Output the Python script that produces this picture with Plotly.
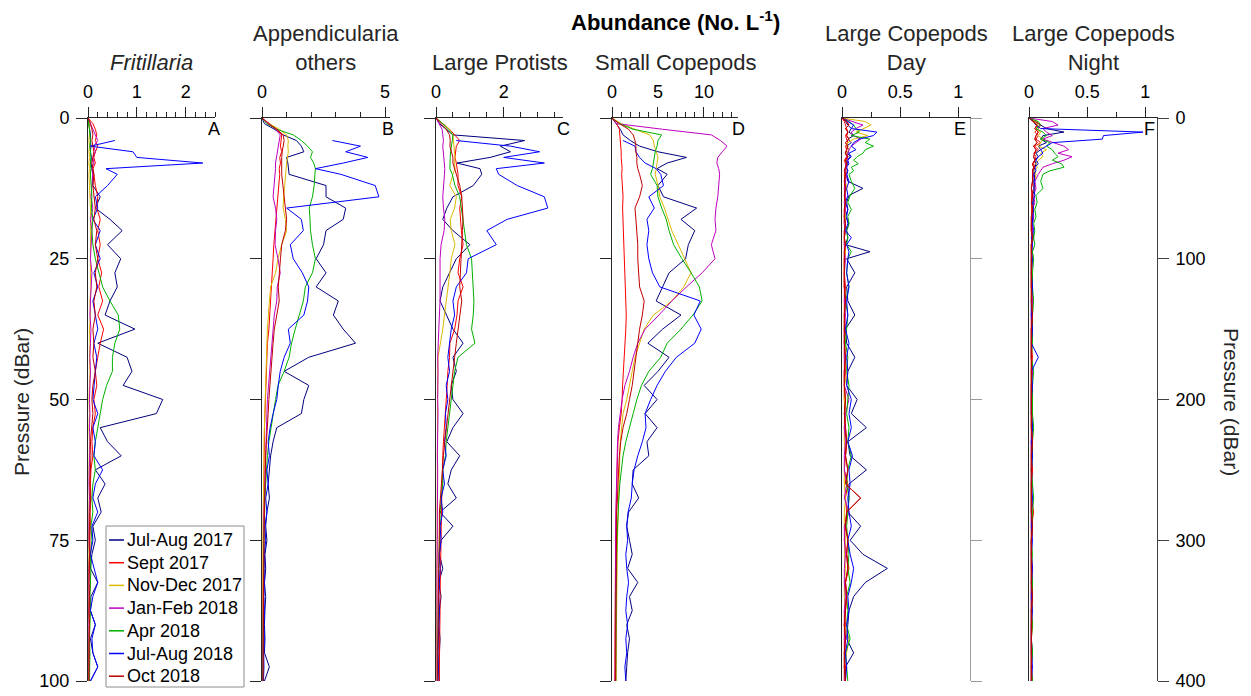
import plotly.graph_objects as go

W, H = 1251, 696

SERIES = ["Jul-Aug 2017", "Sept 2017", "Nov-Dec 2017", "Jan-Feb 2018",
          "Apr 2018", "Jul-Aug 2018", "Oct 2018"]
COLORS = ["#000080", "#FF0000", "#DDB800", "#BF00BF", "#00B000", "#0000FF", "#C00000"]

# Pressure grid (dBar) for panels A-D
DEPTH_AD = [0, 1, 2, 3, 4, 5, 6, 7, 8, 9, 10,
            12, 14, 16, 18, 20,
            22.5, 25, 27.5, 30, 32.5, 35, 37.5, 40, 42.5, 45,
            47.5, 50, 52.5, 55, 57.5, 60, 62.5, 65, 67.5, 70,
            72.5, 75, 77.5, 80, 82.5, 85, 87.5, 90, 92.5, 95,
            97.5, 100]

# Pressure grid (dBar) for panels E-F
DEPTH_EF = [0, 2.5, 5, 7.5, 10, 12.5, 15, 17.5, 20, 22.5, 25, 27.5, 30, 32.5, 35, 37.5, 40,
            45, 50, 55, 60, 65, 70, 75, 80, 85, 90, 95, 100,
            110, 120, 130, 140, 150, 160, 170, 180, 190, 200,
            210, 220, 230, 240, 250, 260, 270, 280, 290, 300,
            310, 320, 330, 340, 350, 360, 370, 380, 390, 400]

N = None

# ---------------- Panel A: Fritillaria ----------------
A_jul17 = [0, 0.02, 0.03, 0.05, 0.05, 0.06, 0.05, 0.07, 0.06, 0.08, 0.1,
           0.1, 0.25, 0.15, 0.45, 0.7,
           0.4, 0.67, 0.55, 0.6, 0.45, 0.35, 0.96, 0.2, 0.8, 0.9,
           0.72, 1.53, 1.4, 0.25, 0.4, 0.68, 0.15, 0.35, 0.2, 0.27,
           0.1, 0.15, 0.08, 0.05, 0.2, 0.06, 0.05, 0.15, 0.05, 0.1,
           0.2, 0.05]
A_sep17 = [0, 0.1, 0.15, 0.18, 0.15, 0.2, 0.15, 0.12, 0.15, 0.1, 0.12,
           0.15, 0.2, 0.18, 0.25, 0.2,
           0.25, 0.2, 0.28, 0.22, 0.3, 0.2, 0.32, 0.25, 0.2, 0.15,
           0.18, 0.12, 0.15, 0.1, 0.08, 0.1, 0.06, 0.05, 0.06, 0.04,
           0.05, 0.03, 0.04, 0.03, 0.05, 0.03, 0.04, 0.03, 0.02, 0.03,
           0.02, 0.02]
A_nov17 = [0, 0.02, 0.03, 0.03, 0.02, 0.03, 0.02, 0.03, 0.02, 0.03, 0.02,
           0.03, 0.04, 0.05, 0.06, 0.05,
           0.05, 0.04, 0.05, 0.06, 0.04, 0.05, 0.03, 0.04, 0.03, 0.04,
           0.03, 0.02, 0.03, 0.02, 0.03, 0.02, 0.02, 0.03, 0.02, 0.02,
           0.02, 0.01, 0.02, 0.01, 0.02, 0.01, 0.01, 0.02, 0.01, 0.01,
           0.01, 0.01]
A_jan18 = [0, 0.05, 0.1, 0.15, 0.2, 0.12, 0.15, 0.1, 0.12, 0.08, 0.1,
           0.08, 0.06, 0.1, 0.05, 0.08,
           0.06, 0.05, 0.08, 0.06, 0.05, 0.04, 0.06, 0.05, 0.04, 0.05,
           0.04, 0.03, 0.04, 0.03, 0.04, 0.03, 0.03, 0.02, 0.03, 0.02,
           0.02, 0.02, 0.03, 0.02, 0.02, 0.02, 0.02, 0.01, 0.02, 0.02,
           0.01, 0.02]
A_apr18 = [0, 0.02, 0.03, 0.04, 0.05, 0.04, 0.05, 0.06, 0.05, 0.06, 0.05,
           0.06, 0.08, 0.07, 0.1, 0.08,
           0.1, 0.15, 0.22, 0.3, 0.45, 0.62, 0.65, 0.55, 0.5, 0.5,
           0.38, 0.3, 0.25, 0.2, 0.15, 0.12, 0.15, 0.1, 0.08, 0.1,
           0.06, 0.08, 0.05, 0.06, 0.05, 0.04, 0.05, 0.04, 0.03, 0.04,
           0.03, 0.03]
A_jul18 = [N, N, N, N, 0.55, 0.05, 0.92, 1.0, 2.35, 0.37, 0.6,
           0.4, 0.15, 0.2, 0.1, 0.25,
           0.15, 0.25, 0.12, 0.2, 0.1, 0.15, 0.2, 0.12, 0.18, 0.15,
           0.12, 0.1, 0.2, 0.1, 0.15, 0.12, 0.3, 0.15, 0.1, 0.2,
           0.08, 0.1, 0.05, 0.12, 0.2, 0.1, 0.05, 0.15, 0.08, 0.1,
           0.2, 0.05]
A_oct18 = [0, 0.05, 0.08, 0.1, 0.08, 0.1, 0.12, 0.1, 0.08, 0.1, 0.12,
           0.1, 0.12, 0.15, 0.12, 0.18,
           0.15, 0.2, 0.15, 0.18, 0.12, 0.15, 0.1, 0.12, 0.1, 0.15,
           0.1, 0.08, 0.1, 0.07, 0.05, 0.06, 0.05, 0.04, 0.05, 0.04,
           0.03, 0.04, 0.03, 0.03, 0.02, 0.03, 0.02, 0.03, 0.02, 0.02,
           0.02, 0.02]

# ---------------- Panel B: Appendicularia others ----------------
B_jul17 = [0, 0.1, 0.5, 0.86, 1.4, 1.6, 1.7, 1.0, 1.05, 1.07, 1.1,
           2.6, 2.6, 3.4, 3.3, 2.6,
           2.5, 2.2, 2.6, 2.2, 3.1, 2.9, 3.3, 3.8, 1.9, 0.9,
           1.9, 1.7, 1.6, 0.6, 0.45, 0.35, 0.3, 0.25, 0.3, 0.2,
           0.15, 0.2, 0.12, 0.15, 0.1, 0.15, 0.12, 0.1, 0.12, 0.1,
           0.3, 0.1]
B_sep17 = [0, 0.3, 0.6, 0.8, 0.78, 0.75, 0.8, 0.72, 0.75, 0.7, 0.72,
           0.68, 0.62, 0.6, 0.55, 0.52,
           0.48, 0.45, 0.42, 0.38, 0.36, 0.3, 0.28, 0.22, 0.2, 0.18,
           0.15, 0.13, 0.12, 0.1, 0.1, 0.08, 0.08, 0.07, 0.06, 0.06,
           0.05, 0.05, 0.04, 0.05, 0.04, 0.04, 0.03, 0.04, 0.03, 0.03,
           0.03, 0.03]
B_nov17 = [0, 0.3, 0.7, 1.0, 1.07, 1.05, 1.07, 1.02, 1.0, 0.98, 0.95,
           0.92, 0.88, 0.86, 0.95, 1.0,
           0.8, 0.65, 0.55, 0.35, 0.3, 0.25, 0.22, 0.2, 0.18, 0.15,
           0.14, 0.12, 0.1, 0.1, 0.08, 0.08, 0.07, 0.06, 0.06, 0.05,
           0.05, 0.04, 0.04, 0.04, 0.03, 0.03, 0.03, 0.03, 0.03, 0.02,
           0.02, 0.02]
B_jan18 = [0, 0.3, 0.55, 0.74, 0.7, 0.65, 0.6, 0.58, 0.55, 0.55, 0.53,
           0.5, 0.45, 0.55, 0.6, 0.55,
           0.53, 0.65, 0.74, 0.62, 0.6, 0.5, 0.45, 0.4, 0.35, 0.3,
           0.25, 0.22, 0.2, 0.18, 0.15, 0.13, 0.12, 0.1, 0.1, 0.08,
           0.07, 0.07, 0.06, 0.05, 0.05, 0.05, 0.04, 0.04, 0.04, 0.03,
           0.03, 0.03]
B_apr18 = [0, 0.2, 0.6, 1.27, 1.6, 1.85, 2.05, 1.97, 2.1, 2.17, 2.15,
           2.12, 2.05, 1.92, 1.95, 1.97,
           2.05, 2.17, 2.05, 1.76, 1.68, 1.5, 1.35, 1.2, 1.1, 0.9,
           0.65, 0.55, 0.45, 0.35, 0.28, 0.22, 0.2, 0.15, 0.12, 0.1,
           0.1, 0.08, 0.08, 0.07, 0.06, 0.06, 0.05, 0.05, 0.05, 0.04,
           0.04, 0.04]
B_jul18 = [N, N, N, N, 2.86, 4.0, 3.4, 4.3, 3.3, 2.17, 3.2,
           4.6, 4.75, 1.0, 1.6, 1.68,
           1.15, 1.27, 1.64, 1.9, 1.85, 1.7, 1.07, 1.15, 0.9, 0.74,
           0.66, 0.6, 0.45, 0.33, 0.25, 0.3, 0.2, 0.25, 0.15, 0.2,
           0.12, 0.15, 0.1, 0.12, 0.1, 0.08, 0.1, 0.08, 0.1, 0.07,
           0.08, 0.06]
B_oct18 = [0, 0.25, 0.6, 0.86, 0.9, 0.85, 0.82, 0.8, 0.8, 0.78, 0.8,
           0.85, 0.9, 0.95, 1.0, 0.95,
           0.8, 0.75, 0.7, 0.66, 0.7, 0.6, 0.5, 0.45, 0.4, 0.36,
           0.33, 0.28, 0.25, 0.2, 0.18, 0.15, 0.13, 0.12, 0.1, 0.1,
           0.09, 0.08, 0.08, 0.07, 0.06, 0.06, 0.06, 0.05, 0.05, 0.05,
           0.05, 0.04]

# ---------------- Panel C: Large Protists ----------------
C_jul17 = [0, 0.1, 0.3, 0.5, 2.62, 1.9, 2.2, 1.6, 0.62, 1.3, 1.35,
           1.1, 0.5, 0.32, 0.2, 0.5,
           1.0, 0.6, 0.4, 0.2, 0.12, 0.3, 0.5, 0.8, 0.5, 0.6,
           0.45, 0.5, 0.8, 0.5, 0.32, 0.7, 0.45, 0.35, 0.6, 0.12,
           0.5, 0.15, 0.1, 0.2, 0.08, 0.15, 0.1, 0.08, 0.12, 0.1,
           0.08, 0.1]
C_sep17 = [0, 0.2, 0.4, 0.55, 0.7, 0.6, 0.58, 0.56, 0.6, 0.62, 0.65,
           0.65, 0.76, 0.7, 0.72, 0.75,
           0.8, 0.7, 0.65, 0.8, 0.65, 0.62, 0.55, 0.41, 0.4, 0.35,
           0.33, 0.3, 0.26, 0.25, 0.22, 0.2, 0.2, 0.18, 0.17, 0.16,
           0.15, 0.15, 0.14, 0.13, 0.13, 0.12, 0.12, 0.11, 0.1, 0.1,
           0.1, 0.1]
C_nov17 = [0, 0.2, 0.4, 0.5, 0.52, 0.54, 0.55, 0.56, 0.55, 0.56, 0.5,
           0.41, 0.6, 0.55, 0.42, 0.45,
           0.56, 0.45, 0.41, 0.35, 0.3, 0.25, 0.2, 0.12, 0.06, 0.05,
           0.05, 0.04, 0.05, 0.04, 0.04, 0.04, 0.03, 0.04, 0.03, 0.03,
           0.03, 0.03, 0.03, 0.02, 0.03, 0.02, 0.02, 0.02, 0.02, 0.02,
           0.02, 0.02]
C_jan18 = [0, 0.1, 0.18, 0.2, 0.22, 0.2, 0.22, 0.24, 0.25, 0.26, 0.25,
           0.22, 0.2, 0.22, 0.26, 0.24,
           0.15, 0.12, 0.12, 0.13, 0.12, 0.1, 0.08, 0.05, 0.05, 0.06,
           0.05, 0.05, 0.06, 0.05, 0.05, 0.04, 0.05, 0.04, 0.04, 0.04,
           0.04, 0.03, 0.04, 0.03, 0.03, 0.03, 0.03, 0.03, 0.03, 0.03,
           0.03, 0.03]
C_apr18 = [0, 0.2, 0.35, 0.5, 0.48, 0.45, 0.43, 0.42, 0.41, 0.41, 0.48,
           0.56, 0.7, 0.75, 0.8, 0.85,
           0.9, 1.05, 1.08, 1.1, 1.12, 1.1, 1.05, 1.15, 0.65, 0.55,
           0.5, 0.45, 0.41, 0.35, 0.3, 0.28, 0.2, 0.2, 0.15, 0.12,
           0.12, 0.1, 0.1, 0.08, 0.08, 0.07, 0.07, 0.06, 0.06, 0.05,
           0.05, 0.05]
C_jul18 = [N, N, N, N, 0.6, 2.2, 3.06, 2.0, 3.2, 1.78, 1.85,
           2.4, 3.2, 3.3, 2.1, 1.5,
           1.78, 0.95, 0.9, 0.6, 0.5, 0.55, 0.45, 0.4, 0.35, 0.4,
           0.3, 0.35, 0.28, 0.3, 0.25, 0.3, 0.2, 0.25, 0.15, 0.2,
           0.12, 0.15, 0.1, 0.12, 0.1, 0.08, 0.1, 0.08, 0.08, 0.06,
           0.07, 0.06]
C_oct18 = [0, 0.15, 0.3, 0.4, 0.42, 0.41, 0.45, 0.5, 0.5, 0.55, 0.6,
           0.7, 0.76, 0.78, 0.8, 0.78,
           0.76, 0.74, 0.72, 0.7, 0.76, 0.7, 0.65, 0.6, 0.55, 0.5,
           0.44, 0.41, 0.36, 0.3, 0.26, 0.22, 0.19, 0.17, 0.14, 0.1,
           0.1, 0.09, 0.09, 0.08, 0.08, 0.07, 0.07, 0.06, 0.06, 0.06,
           0.05, 0.05]

# ---------------- Panel D: Small Copepods ----------------
D_jul17 = [0, 0.5, 0.9, 1.2, 2.0, 3.0, 5.0, 8.1, 6.0, 4.9, 6.0,
           5.0, 5.6, 9.2, 7.5, 9.0,
           8.3, 8.0, 6.2, 5.5, 4.8, 7.5, 5.5, 3.9, 6.2, 5.0,
           3.5, 4.9, 3.6, 4.9, 3.8, 4.0, 2.3, 2.2, 2.9, 1.8,
           1.6, 1.9, 2.2, 1.7, 2.8, 1.9, 2.2, 1.6, 1.9, 1.7,
           1.6, 1.5]
D_sep17 = [0, 0.5, 0.8, 0.87, 0.9, 0.95, 1.0, 1.0, 1.05, 1.1, 1.05,
           1.1, 1.2, 1.15, 1.2, 1.2,
           1.25, 1.3, 1.4, 1.45, 1.5, 1.55, 1.5, 1.4, 1.3, 1.2,
           1.15, 1.1, 1.0, 0.8, 0.65, 0.6, 0.55, 0.5, 0.45, 0.4,
           0.4, 0.38, 0.38, 0.36, 0.35, 0.35, 0.34, 0.33, 0.33, 0.32,
           0.32, 0.3]
D_nov17 = [0, 1.0, 2.5, 4.1, 4.5, 4.6, 4.8, 5.0, 4.9, 4.8, 4.7,
           5.0, 5.2, 5.7, 6.1, 6.5,
           7.2, 7.9, 8.6, 7.8, 6.5, 4.5, 3.5, 3.0, 2.5, 2.2,
           1.9, 1.6, 1.2, 1.05, 0.9, 0.85, 0.8, 0.75, 0.7, 0.65,
           0.6, 0.58, 0.55, 0.55, 0.52, 0.5, 0.5, 0.48, 0.47, 0.46,
           0.45, 0.45]
D_jan18 = [0, 0.5, 5.5, 10.8, 11.8, 12.5, 12.0, 11.5, 11.4, 11.6, 11.7,
           11.6, 11.5, 11.3, 11.2, 11.3,
           10.8, 11.2, 9.8, 8.1, 6.5, 5.1, 3.6, 2.8, 2.3, 1.9,
           1.4, 1.1, 0.9, 0.7, 0.6, 0.55, 0.5, 0.5, 0.45, 0.42,
           0.4, 0.4, 0.38, 0.38, 0.37, 0.36, 0.36, 0.35, 0.35, 0.35,
           0.35, 0.34]
D_apr18 = [0, 0.8, 2.3, 5.4, 5.0, 4.9, 4.7, 4.6, 4.5, 4.4, 4.2,
           4.9, 5.0, 5.4, 5.9, 6.2,
           6.7, 7.6, 8.6, 9.5, 9.8, 8.8, 7.5, 6.0, 5.3, 4.0,
           3.2, 2.7, 2.3, 1.9, 1.5, 1.2, 1.0, 0.85, 0.75, 0.65,
           0.6, 0.55, 0.5, 0.5, 0.48, 0.45, 0.45, 0.43, 0.42, 0.42,
           0.4, 0.4]
D_jul18 = [N, N, N, N, 1.2, 2.5, 2.6, 3.0, 3.6, 4.8, 5.3,
           5.6, 4.0, 4.6, 3.8, 4.0,
           3.8, 4.0, 4.4, 5.2, 9.6, 8.9, 9.7, 9.0, 7.0, 5.8,
           4.9, 4.2, 3.6, 3.7, 3.3, 2.8, 2.4, 2.2, 2.1, 1.75,
           1.6, 1.7, 1.5, 1.6, 1.8, 1.6, 1.5, 1.7, 1.5, 1.6,
           1.4, 1.5]
D_oct18 = [0, 0.8, 1.8, 2.3, 2.5, 2.6, 2.6, 2.7, 2.7, 2.8, 3.0,
           3.3, 3.0, 2.5, 2.6, 2.7,
           2.8, 2.8, 2.9, 3.0, 3.5, 3.3, 3.0, 2.8, 2.6, 2.4,
           2.2, 1.9, 1.6, 1.2, 0.95, 0.8, 0.7, 0.65, 0.6, 0.5,
           0.5, 0.48, 0.46, 0.45, 0.45, 0.44, 0.43, 0.42, 0.42, 0.41,
           0.4, 0.4]

# ---------------- Panel E: Large Copepods Day ----------------
E_jul17 = [0, 0.03, 0.05, 0.08, 0.06, 0.1, 0.05, 0.08, 0.04, 0.06, 0.05, 0.07, 0.04, 0.05, 0.03, 0.05, 0.04,
           0.05, 0.18, 0.06, 0.04, 0.05, 0.03, 0.06, 0.04, 0.05, 0.03, 0.24, 0.04,
           0.11, 0.04, 0.05, 0.11, 0.03, 0.04, 0.11, 0.05, 0.04, 0.13,
           0.08, 0.21, 0.05, 0.07, 0.21, 0.06, 0.06, 0.05, 0.16, 0.07,
           0.18, 0.39, 0.2, 0.1, 0.06, 0.05, 0.04, 0.1, 0.03, 0.03]
E_sep17 = [0, 0.02, 0.03, 0.04, 0.05, 0.03, 0.04, 0.05, 0.03, 0.04, 0.03, 0.04, 0.02, 0.03, 0.04, 0.03, 0.02,
           0.03, 0.02, 0.03, 0.02, 0.03, 0.02, 0.02, 0.03, 0.02, 0.02, 0.03, 0.02,
           0.02, 0.03, 0.02, 0.02, 0.03, 0.02, 0.02, 0.03, 0.02, 0.02,
           0.03, 0.02, 0.04, 0.03, 0.02, 0.05, 0.03, 0.04, 0.03, 0.02,
           0.04, 0.06, 0.03, 0.04, 0.02, 0.03, 0.02, 0.02, 0.03, 0.02]
E_nov17 = [0, 0.2, 0.25, 0.18, 0.12, 0.22, 0.1, 0.05, 0.04, 0.06, 0.04, 0.05, 0.03, 0.04, 0.03, 0.04, 0.03,
           0.03, 0.04, 0.02, 0.03, 0.02, 0.03, 0.02, 0.03, 0.02, 0.02, 0.03, 0.02,
           0.02, 0.02, 0.03, 0.02, 0.02, 0.03, 0.02, 0.05, 0.02, 0.02,
           0.03, 0.02, 0.02, 0.03, 0.02, 0.02, 0.03, 0.02, 0.02, 0.03,
           0.02, 0.03, 0.02, 0.02, 0.03, 0.02, 0.06, 0.04, 0.02, 0.02]
E_jan18 = [0, 0.1, 0.18, 0.12, 0.08, 0.1, 0.16, 0.12, 0.08, 0.06, 0.05, 0.04, 0.05, 0.03, 0.04, 0.03, 0.04,
           0.03, 0.02, 0.03, 0.02, 0.03, 0.02, 0.02, 0.03, 0.02, 0.02, 0.02, 0.03,
           0.02, 0.02, 0.02, 0.03, 0.02, 0.02, 0.02, 0.02, 0.02, 0.06,
           0.03, 0.02, 0.03, 0.02, 0.02, 0.04, 0.02, 0.06, 0.02, 0.02,
           0.03, 0.02, 0.02, 0.03, 0.02, 0.02, 0.02, 0.03, 0.02, 0.02]
E_apr18 = [0, 0.06, 0.1, 0.12, 0.15, 0.08, 0.24, 0.2, 0.27, 0.2, 0.18, 0.13, 0.1, 0.14, 0.08, 0.1, 0.06,
           0.08, 0.11, 0.07, 0.05, 0.08, 0.05, 0.06, 0.04, 0.05, 0.04, 0.08, 0.05,
           0.04, 0.06, 0.03, 0.05, 0.04, 0.03, 0.05, 0.04, 0.06, 0.05,
           0.04, 0.06, 0.05, 0.08, 0.05, 0.04, 0.06, 0.05, 0.04, 0.05,
           0.06, 0.05, 0.07, 0.04, 0.05, 0.04, 0.07, 0.03, 0.04, 0.05]
E_jul18 = [0, 0.05, 0.1, 0.08, 0.3, 0.27, 0.15, 0.1, 0.08, 0.12, 0.06, 0.08, 0.05, 0.06, 0.04, 0.05, 0.04,
           0.06, 0.04, 0.05, 0.03, 0.05, 0.04, 0.05, 0.03, 0.08, 0.04, 0.06, 0.05,
           0.04, 0.06, 0.04, 0.05, 0.03, 0.06, 0.04, 0.05, 0.04, 0.08,
           0.06, 0.08, 0.05, 0.09, 0.06, 0.07, 0.05, 0.06, 0.08, 0.05,
           0.07, 0.1, 0.08, 0.05, 0.06, 0.04, 0.05, 0.03, 0.04, 0.03]
E_oct18 = [0, 0.04, 0.06, 0.03, 0.05, 0.04, 0.06, 0.03, 0.05, 0.04, 0.03, 0.05, 0.03, 0.04, 0.03, 0.02, 0.03,
           0.02, 0.03, 0.02, 0.03, 0.02, 0.02, 0.03, 0.02, 0.02, 0.03, 0.02, 0.02,
           0.02, 0.02, 0.03, 0.02, 0.02, 0.02, 0.03, 0.02, 0.02, 0.03,
           0.02, 0.03, 0.04, 0.03, 0.05, 0.03, 0.16, 0.04, 0.03, 0.05,
           0.04, 0.05, 0.03, 0.04, 0.03, 0.02, 0.03, 0.02, 0.02, 0.03]

# ---------------- Panel F: Large Copepods Night ----------------
F_jul17 = [0, 0.05, 0.1, 0.15, 0.3, 0.12, 0.1, 0.15, 0.08, 0.1, 0.06, 0.08, 0.05, 0.06, 0.05, 0.04, 0.05,
           0.04, 0.05, 0.03, 0.04, 0.03, 0.04, 0.03, 0.03, 0.04, 0.02, 0.03, 0.02,
           0.02, 0.03, 0.02, 0.02, 0.03, 0.02, 0.02, 0.03, 0.02, 0.02,
           0.02, 0.03, 0.02, 0.02, 0.03, 0.02, 0.02, 0.02, 0.03, 0.02,
           0.02, 0.02, 0.03, 0.02, 0.02, 0.02, 0.02, 0.03, 0.02, 0.02]
F_sep17 = [0, 0.06, 0.1, 0.08, 0.05, 0.08, 0.06, 0.1, 0.05, 0.08, 0.04, 0.06, 0.05, 0.04, 0.05, 0.03, 0.04,
           0.03, 0.04, 0.02, 0.03, 0.02, 0.03, 0.02, 0.02, 0.03, 0.02, 0.02, 0.03,
           0.02, 0.02, 0.03, 0.02, 0.02, 0.02, 0.03, 0.02, 0.02, 0.02,
           0.03, 0.02, 0.02, 0.02, 0.03, 0.02, 0.02, 0.04, 0.02, 0.02,
           0.02, 0.03, 0.02, 0.02, 0.02, 0.03, 0.02, 0.02, 0.02, 0.03]
F_nov17 = [0, 0.05, 0.08, 0.06, 0.1, 0.08, 0.12, 0.1, 0.08, 0.15, 0.1, 0.12, 0.08, 0.06, 0.07, 0.05, 0.06,
           0.05, 0.04, 0.05, 0.03, 0.04, 0.03, 0.03, 0.02, 0.03, 0.02, 0.02, 0.03,
           0.02, 0.02, 0.02, 0.03, 0.02, 0.02, 0.02, 0.02, 0.02, 0.02,
           0.02, 0.02, 0.03, 0.02, 0.02, 0.02, 0.02, 0.02, 0.02, 0.02,
           0.02, 0.02, 0.02, 0.02, 0.03, 0.02, 0.02, 0.02, 0.02, 0.02]
F_jan18 = [0, 0.2, 0.25, 0.12, 0.15, 0.2, 0.12, 0.22, 0.3, 0.34, 0.25, 0.37, 0.3, 0.2, 0.12, 0.1, 0.08,
           0.05, 0.06, 0.04, 0.05, 0.03, 0.04, 0.03, 0.03, 0.02, 0.03, 0.02, 0.02,
           0.02, 0.02, 0.03, 0.02, 0.02, 0.02, 0.02, 0.03, 0.02, 0.02,
           0.02, 0.02, 0.02, 0.02, 0.02, 0.03, 0.02, 0.02, 0.02, 0.02,
           0.02, 0.02, 0.02, 0.02, 0.02, 0.02, 0.02, 0.02, 0.02, 0.02]
F_apr18 = [0, 0.08, 0.1, 0.06, 0.12, 0.15, 0.1, 0.18, 0.15, 0.2, 0.22, 0.25, 0.2, 0.28, 0.3, 0.18, 0.12,
           0.1, 0.12, 0.06, 0.07, 0.05, 0.06, 0.04, 0.05, 0.04, 0.05, 0.03, 0.04,
           0.03, 0.03, 0.04, 0.03, 0.03, 0.03, 0.02, 0.04, 0.03, 0.03,
           0.03, 0.04, 0.03, 0.03, 0.02, 0.03, 0.04, 0.03, 0.03, 0.02,
           0.03, 0.02, 0.03, 0.03, 0.02, 0.03, 0.02, 0.03, 0.02, 0.03]
F_jul18 = [0, 0.04, 0.06, 0.1, 0.98, 0.64, 0.63, 0.2, 0.15, 0.1, 0.12, 0.08, 0.06, 0.08, 0.05, 0.06, 0.04,
           0.05, 0.04, 0.05, 0.03, 0.04, 0.03, 0.03, 0.04, 0.02, 0.03, 0.02, 0.03,
           0.02, 0.03, 0.02, 0.02, 0.03, 0.02, 0.08, 0.02, 0.03, 0.02,
           0.02, 0.03, 0.02, 0.03, 0.02, 0.02, 0.03, 0.02, 0.02, 0.03,
           0.02, 0.03, 0.02, 0.02, 0.03, 0.02, 0.02, 0.02, 0.03, 0.02]
F_oct18 = [0, 0.04, 0.07, 0.05, 0.08, 0.06, 0.05, 0.07, 0.04, 0.06, 0.05, 0.04, 0.05, 0.03, 0.04, 0.03, 0.03,
           0.03, 0.02, 0.03, 0.02, 0.03, 0.02, 0.02, 0.02, 0.03, 0.02, 0.02, 0.02,
           0.02, 0.02, 0.02, 0.03, 0.02, 0.02, 0.02, 0.02, 0.02, 0.02,
           0.02, 0.02, 0.03, 0.02, 0.02, 0.02, 0.02, 0.02, 0.03, 0.02,
           0.02, 0.02, 0.02, 0.03, 0.02, 0.02, 0.02, 0.02, 0.02, 0.02]

PANEL_TITLES = ["<i>Fritillaria</i>", "Appendicularia<br>others", "Large Protists",
                "Small Copepods", "Large Copepods<br>Day", "Large Copepods<br>Night"]
PANEL_LETTERS = ["A", "B", "C", "D", "E", "F"]
PRESSURE_TICKS_AD = [0, 25, 50, 75, 100]
PRESSURE_TICKS_EF = [0, 100, 200, 300, 400]

# ---------------- layout geometry (pixels) ----------------
def px(x):
    return x / W

def py(y):
    return 1 - y / H

AX = "#262626"
FONT = "Liberation Sans, Arial, sans-serif"
Y_TOP, Y_BOT = 118, 681

panels = [
    dict(data=[A_jul17, A_sep17, A_nov17, A_jan18, A_apr18, A_jul18, A_oct18], depth=DEPTH_AD,
         x0=88, x1=215, xmax=2.6, dtick=1, minor=0.2, ymax=100, letter_x=214),
    dict(data=[B_jul17, B_sep17, B_nov17, B_jan18, B_apr18, B_jul18, B_oct18], depth=DEPTH_AD,
         x0=262, x1=390, xmax=5.2, dtick=5, minor=1, ymax=100, letter_x=388),
    dict(data=[C_jul17, C_sep17, C_nov17, C_jan18, C_apr18, C_jul18, C_oct18], depth=DEPTH_AD,
         x0=436, x1=563, xmax=3.75, dtick=2, minor=0.5, ymax=100, letter_x=563),
    dict(data=[D_jul17, D_sep17, D_nov17, D_jan18, D_apr18, D_jul18, D_oct18], depth=DEPTH_AD,
         x0=612, x1=738, xmax=13.7, dtick=5, minor=1, ymax=100, letter_x=739),
    dict(data=[E_jul17, E_sep17, E_nov17, E_jan18, E_apr18, E_jul18, E_oct18], depth=DEPTH_EF,
         x0=842, x1=970, xmax=1.1, dtick=0.5, minor=0.25, ymax=400, letter_x=960),
    dict(data=[F_jul17, F_sep17, F_nov17, F_jan18, F_apr18, F_jul18, F_oct18], depth=DEPTH_EF,
         x0=1029, x1=1157, xmax=1.1, dtick=0.5, minor=0.25, ymax=400, letter_x=1149),
]

fig = go.Figure()
layout = dict(
    width=W, height=H, margin=dict(l=0, r=0, t=0, b=0, pad=0, autoexpand=False),
    paper_bgcolor="white", plot_bgcolor="rgba(0,0,0,0)",
    showlegend=False, font=dict(family=FONT, color="black", size=18),
)

annotations = []
shapes = []

for i, p in enumerate(panels, start=1):
    sfx = "" if i == 1 else str(i)
    for name, color, vals in zip(SERIES, COLORS, p["data"]):
        fig.add_trace(go.Scatter(
            x=vals, y=p["depth"], mode="lines", name=name,
            line=dict(color=color, width=1), xaxis="x" + sfx, yaxis="y" + sfx,
            showlegend=False, hoverinfo="skip"))
    layout["xaxis" + sfx] = dict(
        domain=[px(p["x0"]), px(p["x1"])], range=[0, p["xmax"]], side="top",
        anchor="y" + sfx, showline=True, linecolor=AX, linewidth=1,
        ticks="outside", ticklen=10, tickcolor=AX, tickwidth=1,
        tickmode="linear", tick0=0, dtick=p["dtick"],
        minor=dict(ticks="outside", ticklen=5, tickcolor=AX, tickmode="linear",
                   tick0=0, dtick=p["minor"], showgrid=False),
        showgrid=False, zeroline=False, tickfont=dict(size=18, color="black"),
        ticklabelstandoff=2, automargin=False, fixedrange=True)
    ticks_y = PRESSURE_TICKS_AD if p["ymax"] == 100 else PRESSURE_TICKS_EF
    layout["yaxis" + sfx] = dict(
        domain=[py(Y_BOT), py(Y_TOP)], range=[p["ymax"], 0], anchor="x" + sfx,
        side="left", showline=True, linecolor=AX, linewidth=1,
        ticks="outside" if i <= 4 else "", ticklen=11, tickcolor=AX,
        tickmode="array", tickvals=ticks_y, showticklabels=(i == 1),
        showgrid=False, zeroline=False, tickfont=dict(size=18, color="black"),
        ticklabelstandoff=3, automargin=False, fixedrange=True)
    # panel title
    annotations.append(dict(
        text=PANEL_TITLES[i - 1], x=px((p["x0"] + p["x1"]) / 2), y=py(77),
        xref="paper", yref="paper", xanchor="center", yanchor="bottom",
        showarrow=False, font=dict(size=22, color="#262626")))
    # panel letter
    annotations.append(dict(
        text=PANEL_LETTERS[i - 1], x=px(p["letter_x"]), y=py(129),
        xref="paper", yref="paper", xanchor="center", yanchor="middle",
        showarrow=False, font=dict(size=18, color="black")))

# right-hand axes of E (grey frame line) and F (labelled pressure axis)
layout["yaxis7"] = dict(
    overlaying="y5", side="right", anchor="x5", range=[400, 0],
    showline=True, linecolor="#9A9A9A", linewidth=1, ticks="outside", ticklen=11,
    tickcolor="#9A9A9A", tickmode="array", tickvals=PRESSURE_TICKS_EF,
    showticklabels=False, showgrid=False, zeroline=False, automargin=False, fixedrange=True)
layout["yaxis8"] = dict(
    overlaying="y6", side="right", anchor="x6", range=[400, 0],
    showline=True, linecolor="#404040", linewidth=1, ticks="outside", ticklen=11,
    tickcolor="#404040", tickmode="array", tickvals=PRESSURE_TICKS_EF,
    showticklabels=True, tickfont=dict(size=18, color="black"), ticklabelstandoff=3,
    showgrid=False, zeroline=False, automargin=False, fixedrange=True)
# the right-hand axes carry the same surface-to-bottom profiles as their panels
fig.add_trace(go.Scatter(x=E_oct18, y=DEPTH_EF, mode="lines", xaxis="x5", yaxis="y7",
                         line=dict(color=COLORS[6], width=1), showlegend=False, hoverinfo="skip"))
fig.add_trace(go.Scatter(x=F_oct18, y=DEPTH_EF, mode="lines", xaxis="x6", yaxis="y8",
                         line=dict(color=COLORS[6], width=1), showlegend=False, hoverinfo="skip"))

# overall title and axis titles
annotations.append(dict(
    text="<b>Abundance (No. L<sup>-1</sup>)</b>", x=px(675), y=py(21),
    xref="paper", yref="paper", xanchor="center", yanchor="middle",
    showarrow=False, font=dict(size=22, color="black")))
annotations.append(dict(
    text="Pressure (dBar)", x=px(21), y=py(402), textangle=-90,
    xref="paper", yref="paper", xanchor="center", yanchor="middle",
    showarrow=False, font=dict(size=21, color="#262626")))
annotations.append(dict(
    text="Pressure (dBar)", x=px(1232), y=py(402), textangle=90,
    xref="paper", yref="paper", xanchor="center", yanchor="middle",
    showarrow=False, font=dict(size=21, color="#262626")))

# legend (drawn inside panel A)
LEG_X0, LEG_X1, LEG_Y0, LEG_Y1 = 106, 244, 526, 687
shapes.append(dict(type="rect", xref="paper", yref="paper",
                   x0=px(LEG_X0), x1=px(LEG_X1), y0=py(LEG_Y1), y1=py(LEG_Y0),
                   fillcolor="white", line=dict(color="#8C8C8C", width=1), layer="above"))
for k, (name, color) in enumerate(zip(SERIES, COLORS)):
    yk = 540 + k * 22.7
    shapes.append(dict(type="line", xref="paper", yref="paper",
                       x0=px(109), x1=px(124), y0=py(yk), y1=py(yk),
                       line=dict(color=color, width=1.5), layer="above"))
    annotations.append(dict(
        text=name, x=px(125), y=py(yk), xref="paper", yref="paper",
        xanchor="left", yanchor="middle", showarrow=False,
        font=dict(size=18, color="black")))

layout["annotations"] = annotations
layout["shapes"] = shapes
fig.update_layout(**layout)

fig.write_html("out.html",
               post_script="document.body.style.margin='0';document.body.style.padding='0';")
